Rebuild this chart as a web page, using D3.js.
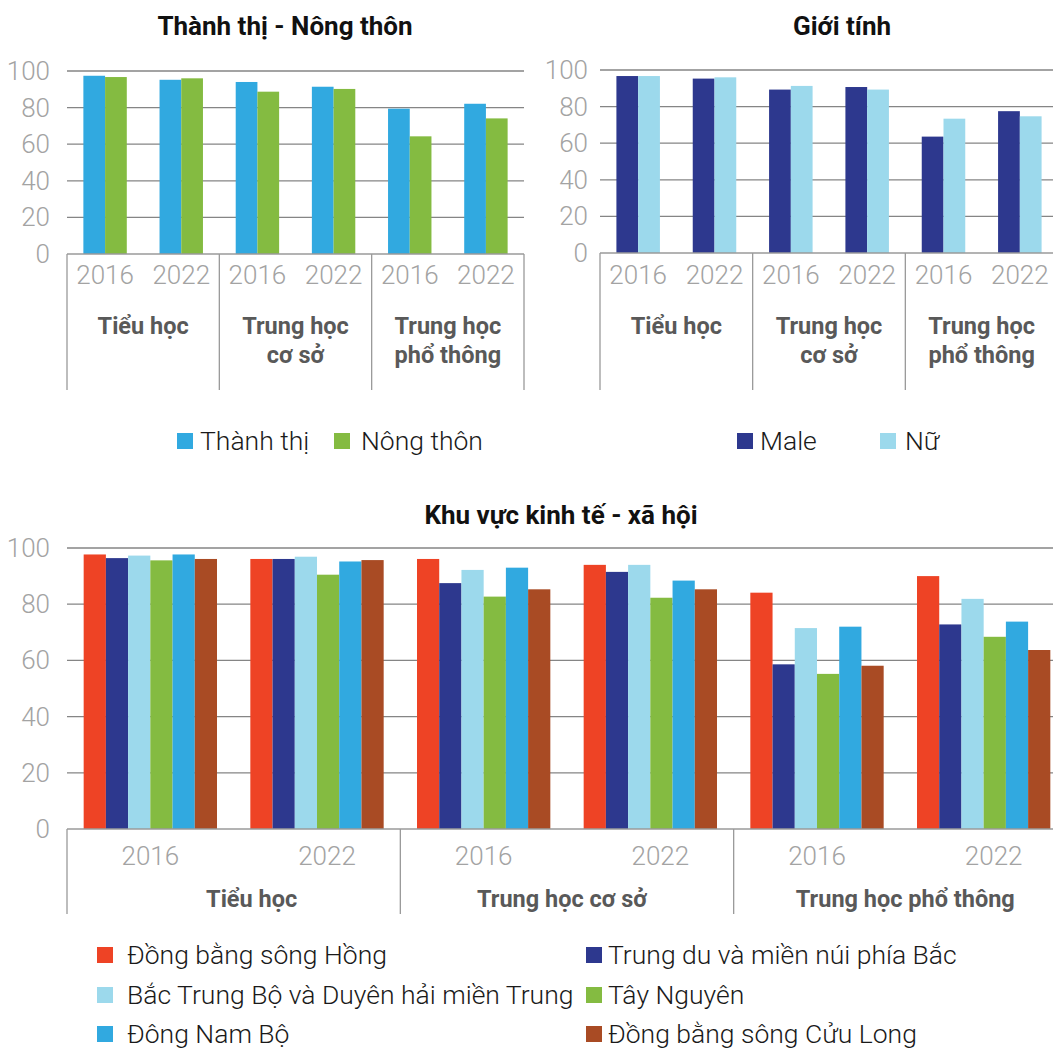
<!DOCTYPE html>
<html>
<head>
<meta charset="utf-8">
<script src="https://cdn.jsdelivr.net/npm/d3@7"></script>
<style>
  body { margin: 0; background: #fff; }
  svg { font-family: Roboto, sans-serif; display: block; }
</style>
</head>
<body>
<svg id="chart" width="1053" height="1048"></svg>
<script>
// data
const levels = ['Tiểu học', 'Trung học cơ sở', 'Trung học phổ thông'];
const levelLines = [['Tiểu học'], ['Trung học', 'cơ sở'], ['Trung học', 'phổ thông']];
const years = ['2016', '2022'];
const yTicks = [0, 20, 40, 60, 80, 100];

const areaNames = ['Thành thị', 'Nông thôn'];
const urbanValues = [97.4, 95.2, 94.0, 91.4, 79.4, 82.1];
const ruralValues = [96.7, 96.0, 88.7, 90.2, 64.3, 74.1];

const genderNames = ['Male', 'Nữ'];
const maleValues = [96.7, 95.3, 89.3, 90.7, 63.6, 77.5];
const femaleValues = [96.7, 96.0, 91.3, 89.3, 73.4, 74.7];

const regionNames = [
    'Đồng bằng sông Hồng',
    'Trung du và miền núi phía Bắc',
    'Bắc Trung Bộ và Duyên hải miền Trung',
    'Tây Nguyên',
    'Đông Nam Bộ',
    'Đồng bằng sông Cửu Long'
];
const redRiver = [97.7, 96.1, 96.1, 94.0, 84.1, 90.0];
const northMountain = [96.4, 96.1, 87.5, 91.5, 58.6, 72.8];
const northCentral = [97.3, 96.9, 92.2, 94.0, 71.5, 81.9];
const highlands = [95.6, 90.5, 82.7, 82.3, 55.2, 68.4];
const southEast = [97.7, 95.2, 93.0, 88.4, 72.0, 73.8];
const mekong = [96.1, 95.7, 85.3, 85.3, 58.1, 63.7];

const svg = d3.select('#chart');

// one grouped bar panel
function drawPanel(cfg){
    const slots = d3.range(levels.length * years.length);
    const g = svg.append('g');

    const y = d3.scaleLinear().domain([0, 100]).range([cfg.bottom, cfg.top]);
    const x0 = d3.scaleBand().domain(slots).range([cfg.left, cfg.right])
        .paddingInner(cfg.pad).paddingOuter(cfg.pad / 2);
    const x1 = d3.scaleBand().domain(d3.range(cfg.series.length)).range([0, x0.bandwidth()]);

    // title
    g.append('text')
        .attr('x', cfg.titleX).attr('y', cfg.titleY)
        .attr('text-anchor', 'middle')
        .attr('font-size', 26).attr('font-weight', 700).attr('fill', '#111')
        .text(cfg.title);

    // grid + y labels
    g.append('g').selectAll('line').data(yTicks.filter(d => d > 0)).enter()
        .append('line')
            .attr('x1', cfg.left).attr('x2', cfg.gridRight)
            .attr('y1', d => y(d)).attr('y2', d => y(d))
            .attr('stroke', '#858585').attr('stroke-width', 1.3);
    g.append('g').selectAll('text').data(yTicks).enter()
        .append('text')
            .attr('x', cfg.left - cfg.tickGap).attr('y', d => y(d) + 9)
            .attr('text-anchor', 'end')
            .attr('font-size', 26).attr('font-weight', 300).attr('fill', '#a3a3a3')
            .text(d => d);

    // bars
    cfg.series.forEach((vals, si) => {
        g.append('g').selectAll('rect').data(vals).enter()
            .append('rect')
                .attr('x', (d, i) => x0(i) + x1(si))
                .attr('y', d => y(d))
                .attr('width', x1.bandwidth())
                .attr('height', d => y(0) - y(d))
                .attr('fill', cfg.colors[si]);
    });

    // base axis line
    g.append('line')
        .attr('x1', cfg.left).attr('x2', cfg.gridRight)
        .attr('y1', y(0)).attr('y2', y(0))
        .attr('stroke', '#9a9a9a').attr('stroke-width', 1.3);

    // level dividers
    const levelW = (cfg.right - cfg.left) / levels.length;
    g.append('g').selectAll('line').data(d3.range(levels.length + 1)).enter()
        .append('line')
            .attr('x1', d => cfg.left + d * levelW).attr('x2', d => cfg.left + d * levelW)
            .attr('y1', y(0)).attr('y2', cfg.divBottom)
            .attr('stroke', '#9a9a9a').attr('stroke-width', 1.3);

    // year labels
    g.append('g').selectAll('text').data(slots).enter()
        .append('text')
            .attr('x', d => x0(d) + x0.bandwidth() / 2 + (d % 2 ? cfg.yearShift : 0))
            .attr('y', cfg.yearY)
            .attr('text-anchor', 'middle')
            .attr('font-size', 26).attr('font-weight', 300).attr('fill', '#a3a3a3')
            .text(d => years[d % 2]);

    // level labels
    const lv = g.append('g').selectAll('text').data(cfg.levelLines).enter()
        .append('text')
            .attr('x', (d, i) => cfg.left + (i + 0.5) * levelW + cfg.levelShift[i])
            .attr('y', cfg.levelY)
            .attr('text-anchor', 'middle')
            .attr('font-size', 23.5).attr('font-weight', 700).attr('fill', '#595959');
    lv.selectAll('tspan').data(d => d).enter()
        .append('tspan')
            .attr('x', function(){ return d3.select(this.parentNode).attr('x'); })
            .attr('dy', (d, i) => i ? 29 : 0)
            .text(d => d);

    // legend
    const leg = g.append('g').selectAll('g').data(cfg.names).enter()
        .append('g')
            .attr('transform', (d, i) => `translate(${cfg.legend[i][0]},${cfg.legend[i][1]})`);
    leg.append('rect')
        .attr('x', 0).attr('y', -8).attr('width', 16).attr('height', 16)
        .attr('fill', (d, i) => cfg.colors[i]);
    leg.append('text')
        .attr('x', (d, i) => cfg.legend[i][2]).attr('y', 9)
        .attr('font-size', 26.5).attr('font-weight', 300).attr('fill', '#1a1a1a')
        .text(d => d);
}

drawPanel({
    title: 'Thành thị - Nông thôn', titleX: 285, titleY: 35,
    left: 67, right: 524, gridRight: 524, top: 71, bottom: 254, pad: 0.43, tickGap: 17,
    series: [urbanValues, ruralValues], names: areaNames,
    colors: ['#31a9e0', '#84bb41'],
    levelLines: levelLines, levelShift: [0, 0, 0],
    yearY: 284, yearShift: 0, levelY: 334, divBottom: 390,
    legend: [[177, 441, 23], [334, 441, 27]]
});

drawPanel({
    title: 'Giới tính', titleX: 842, titleY: 35,
    left: 600, right: 1058, gridRight: 1053, top: 70, bottom: 253, pad: 0.43, tickGap: 12,
    series: [maleValues, femaleValues], names: genderNames,
    colors: ['#2d388e', '#9cd9ec'],
    levelLines: levelLines, levelShift: [0, 0, 0],
    yearY: 284, yearShift: 0, levelY: 334, divBottom: 390,
    legend: [[737, 441, 23], [880, 441, 25]]
});

drawPanel({
    title: 'Khu vực kinh tế - xã hội', titleX: 561, titleY: 524,
    left: 67, right: 1067, gridRight: 1053, top: 548, bottom: 829, pad: 0.2, tickGap: 17,
    series: [redRiver, northMountain, northCentral, highlands, southEast, mekong],
    names: regionNames,
    colors: ['#ee4325', '#2d388e', '#9cd9ec', '#84bb41', '#31a9e0', '#a94b24'],
    levelLines: levels.map(d => [d]), levelShift: [18, -5, 5],
    yearY: 865, yearShift: 10, levelY: 907, divBottom: 914,
    legend: [[97, 955, 30], [586, 955, 22], [97, 995, 30], [586, 995, 22], [97, 1034, 30], [586, 1034, 22]]
});
</script>
</body>
</html>
